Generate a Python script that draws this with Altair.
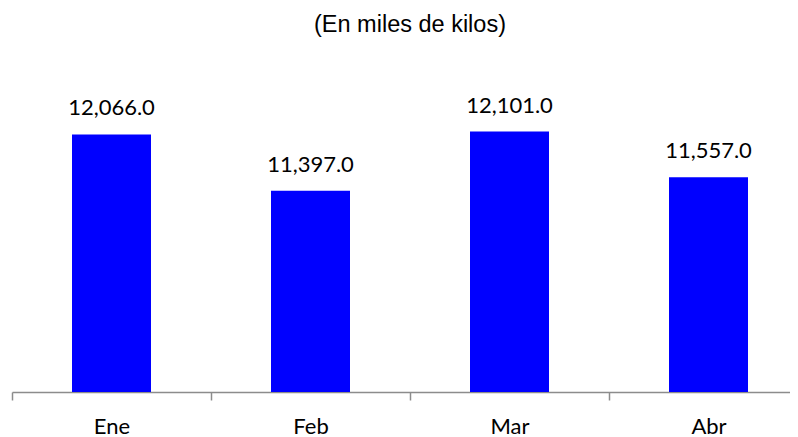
import altair as alt
import pandas as pd

months = ["Ene", "Feb", "Mar", "Abr"]
values = [12066.0, 11397.0, 12101.0, 11557.0]

df = pd.DataFrame({"mes": months, "valor": values})

x = alt.X("mes:N", sort=months, title=None,
          scale=alt.Scale(paddingInner=0, paddingOuter=0),
          axis=alt.Axis(labelAngle=0, labelFont="Lato", labelFontSize=22,
                        labelColor="#000000", labelPadding=16,
                        domainColor="#8c8c8c", domainWidth=1.5,
                        tickColor="#8c8c8c", tickWidth=1.5, tickSize=8,
                        tickBand="extent", grid=False))
y = alt.Y("valor:Q", axis=None,
          scale=alt.Scale(domain=[9000, 13000], nice=False, zero=False, clamp=True))

bars = alt.Chart(df).mark_bar(color="#0000FF", size=79).encode(x=x, y=y)
labels = alt.Chart(df).mark_text(font="Lato", fontSize=22, color="#000000",
                                 baseline="alphabetic", dy=-19).encode(
    x=alt.X("mes:N", sort=months),
    y="valor:Q",
    text=alt.Text("valor:Q", format=",.1f"))

chart = (bars + labels).properties(
    width=796, height=336,
    padding={"left": 4, "top": 48, "right": -18, "bottom": 45},
    autosize=alt.AutoSizeParams(type="none"),
    title=alt.TitleParams("(En miles de kilos)", font="Liberation Sans",
                          fontSize=23.5, fontWeight="normal", color="#000000",
                          baseline="alphabetic", offset=1, anchor="middle"),
).configure_view(stroke=None)

chart.save("out.html", embed_options={"renderer": "svg", "actions": False})
